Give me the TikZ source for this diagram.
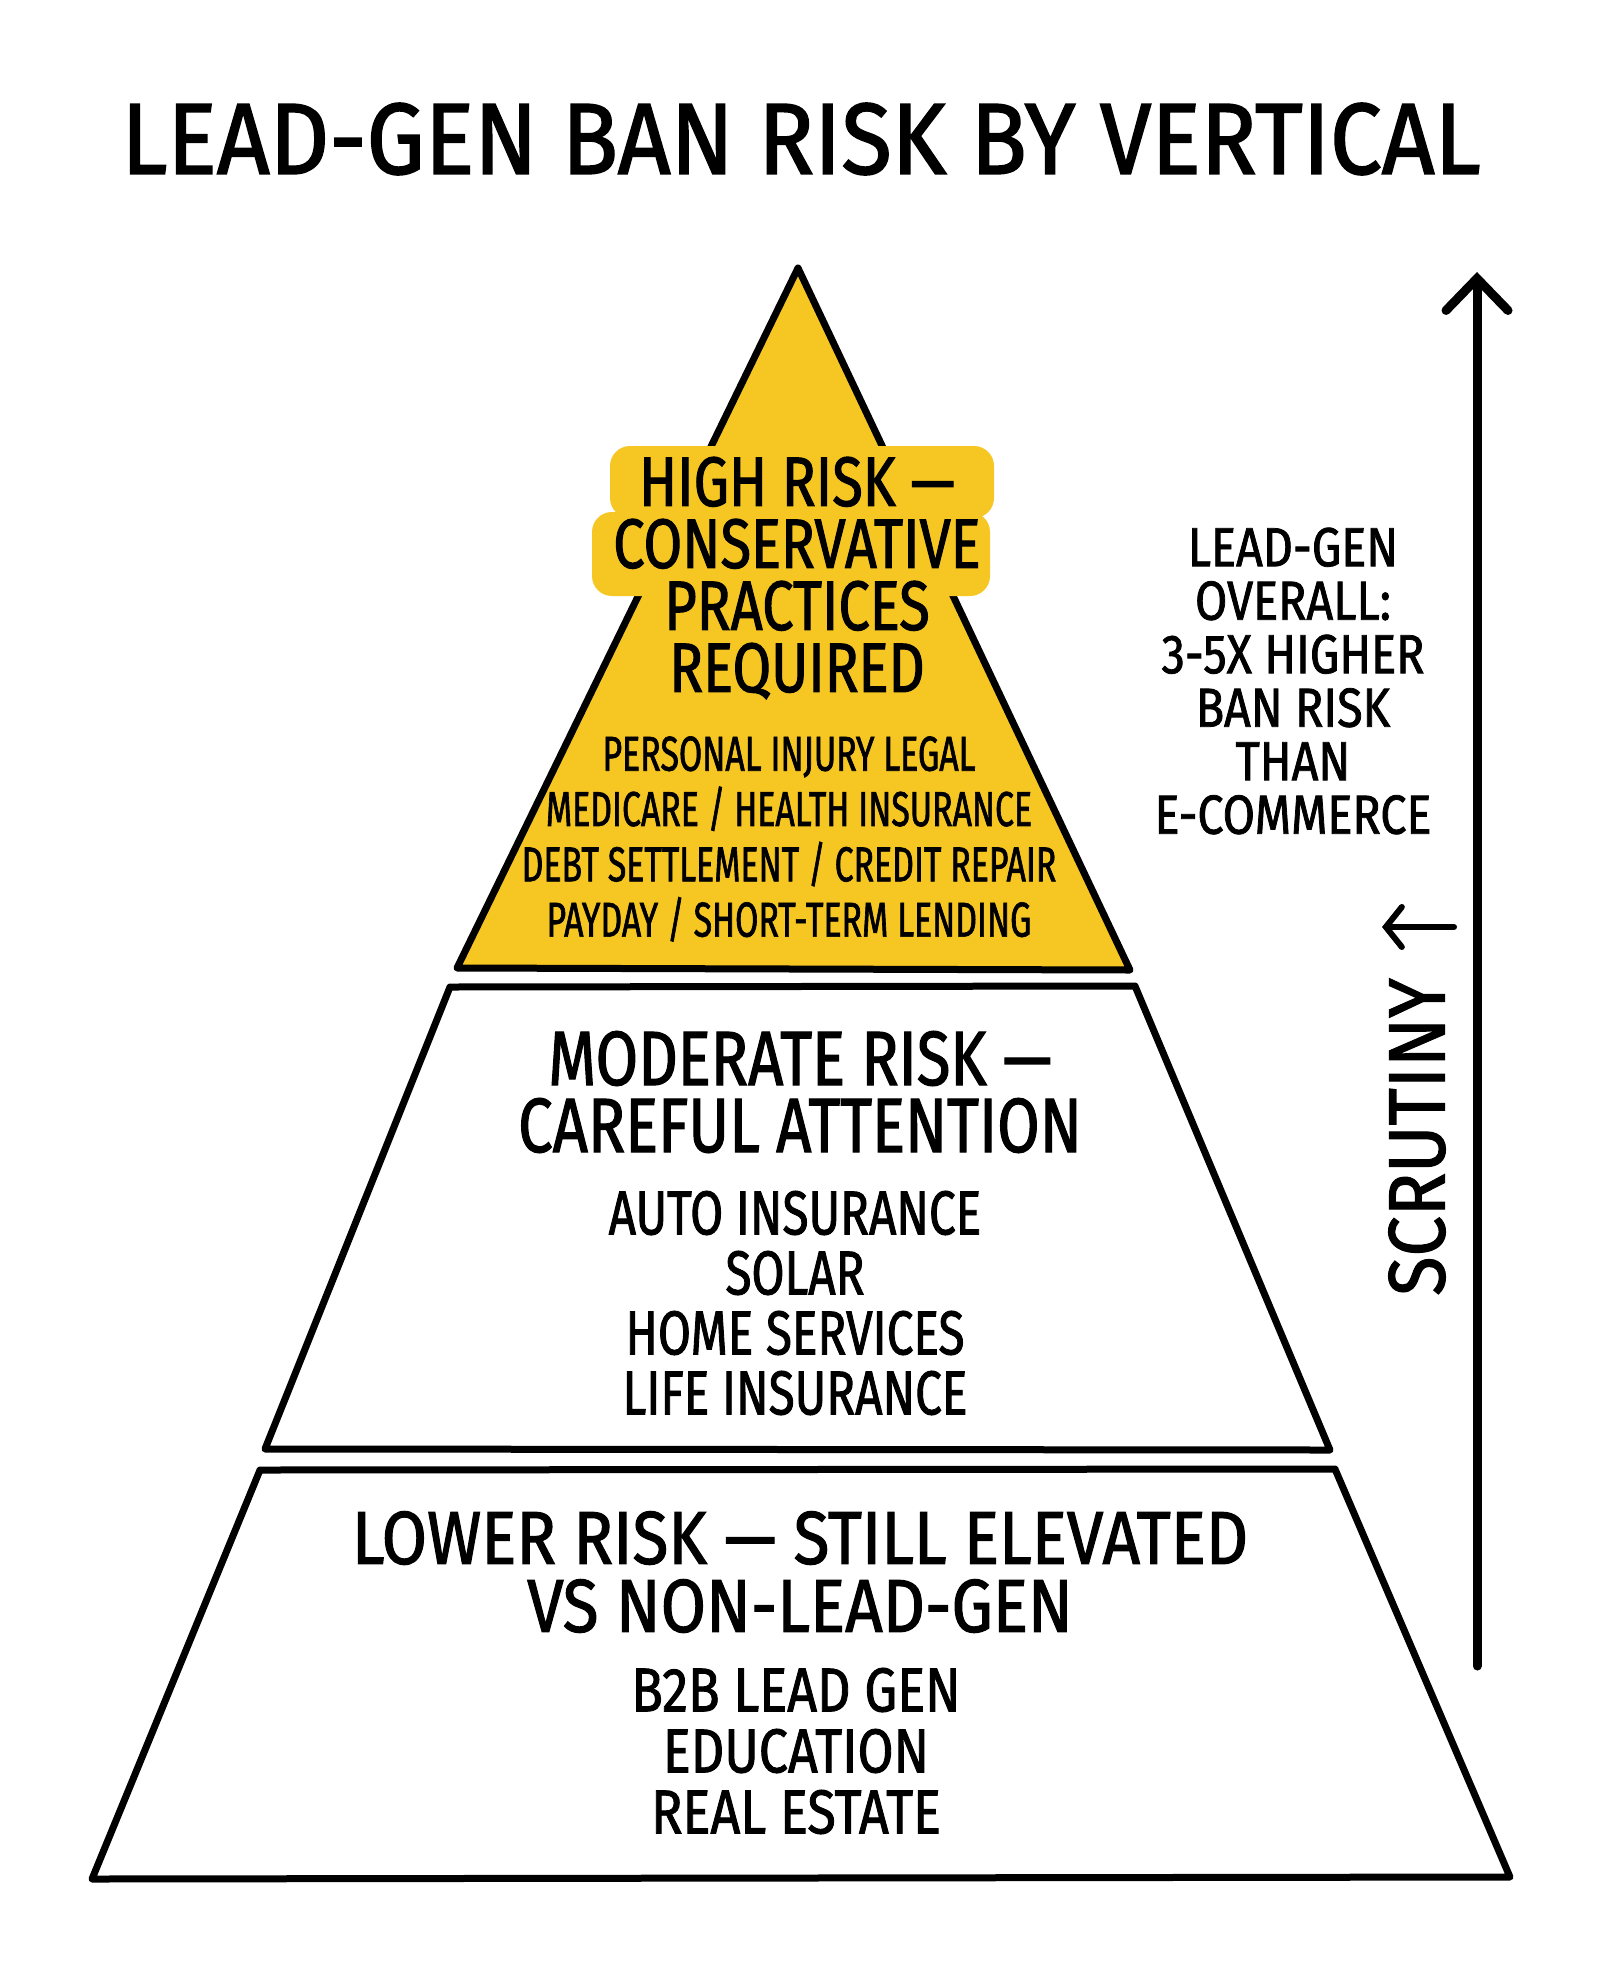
\documentclass[tikz,border=0pt]{standalone}
\usepackage{fontspec}
\setmainfont{Fira Sans}[FakeStretch=0.82, FakeBold=1.4]
\newfontfamily\fTitle{Fira Sans}[FakeStretch=0.915, FakeBold=1.6]
\newfontfamily\fHiHead{Fira Sans}[FakeStretch=0.80, FakeBold=1.5]
\newfontfamily\fHiItem{Fira Sans}[FakeStretch=0.69, FakeBold=1.3]
\newfontfamily\fMidHead{Fira Sans}[FakeStretch=0.80, FakeBold=1.5]
\newfontfamily\fMidItem{Fira Sans}[FakeStretch=0.77, FakeBold=1.4]
\newfontfamily\fLowHead{Fira Sans}[FakeStretch=0.875, FakeBold=1.5]
\newfontfamily\fLowItem{Fira Sans}[FakeStretch=0.84, FakeBold=1.4]
\newfontfamily\fSide{Fira Sans}[FakeStretch=0.85, FakeBold=1.4]
\newfontfamily\fScr{Fira Sans}[FakeStretch=0.90, FakeBold=1.4]
\usetikzlibrary{arrows.meta}
\definecolor{hiyel}{HTML}{F6C623}
\tikzset{
  edge/.style={line width=7pt, line cap=round, line join=round},
  txt/.style={align=center, inner sep=0pt, text=black},
  halo/.style={fill=hiyel, rounded corners=20pt, draw=none},
}
\begin{document}
\begin{tikzpicture}[x=1pt,y=-1pt]
\useasboundingbox[fill=white] (0,0) rectangle (1600,1986);

% title
\node[txt, font=\fTitle\fontsize{101}{110}\selectfont] (title) at (801,139) {LEAD-GEN BAN RISK BY VERTICAL};

% top tier
\coordinate (apex) at (798,268);
\coordinate (tl) at (457,968);
\coordinate (tr) at (1130,970);
\fill[hiyel] (apex) -- (tr) -- (tl) -- cycle;
\draw[edge] (apex) -- (tr) -- (tl) -- cycle;
\fill[halo] (610,446) rectangle (994,518);
\fill[halo] (592,512) rectangle (990,596);
\node[txt, font=\fHiHead\fontsize{70}{62}\selectfont] (hihead) at (797,578) {HIGH RISK —\\CONSERVATIVE\\PRACTICES\\REQUIRED};
\node[txt, font=\fHiItem\fontsize{49}{55.3}\selectfont] (hiitems) at (789,839) {PERSONAL INJURY LEGAL\\MEDICARE / HEALTH INSURANCE\\DEBT SETTLEMENT / CREDIT REPAIR\\PAYDAY / SHORT-TERM LENDING};

% middle tier
\coordinate (m1) at (450,987);
\coordinate (m2) at (1135,986);
\coordinate (m3) at (1330,1450);
\coordinate (m4) at (265,1449);
\draw[edge] (m1) -- (m2) -- (m3) -- (m4) -- cycle;
\node[txt, font=\fMidHead\fontsize{77}{67}\selectfont] (midhead) at (800,1092) {MODERATE RISK —\\CAREFUL ATTENTION};
\node[txt, font=\fMidItem\fontsize{62}{60}\selectfont] (miditems) at (795,1303) {AUTO INSURANCE\\SOLAR\\HOME SERVICES\\LIFE INSURANCE};

% lower tier
\coordinate (l1) at (260,1470);
\coordinate (l2) at (1335,1469);
\coordinate (l3) at (1510,1877);
\coordinate (l4) at (92,1879);
\draw[edge] (l1) -- (l2) -- (l3) -- (l4) -- cycle;
\node[txt, font=\fLowHead\fontsize{75}{68}\selectfont] (lowhead) at (800,1572) {LOWER RISK — STILL ELEVATED\\VS NON-LEAD-GEN};
\node[txt, font=\fLowItem\fontsize{62}{61}\selectfont] (lowitems) at (796,1751) {B2B LEAD GEN\\EDUCATION\\REAL ESTATE};

% side note
\node[txt, font=\fSide\fontsize{55}{53.5}\selectfont] (side) at (1293,681) {LEAD-GEN\\OVERALL:\\3-5X HIGHER\\BAN RISK\\THAN\\E-COMMERCE};

% scrutiny axis
\coordinate (axbot) at (1477,1666);
\coordinate (axtop) at (1477,272);
\draw[line width=9pt, line cap=round, -{Straight Barb[length=32pt, width=62pt, line cap=round]}] (axbot) -- (axtop);
\node[txt, rotate=90, font=\fScr\fontsize{80}{80}\selectfont] (scr) at (1417,1137) {SCRUTINY};
\coordinate (sa1) at (1454,927);
\coordinate (sa2) at (1382,927);
\draw[line width=6pt, line cap=round, -{Straight Barb[length=16pt, width=40pt, line cap=round]}] (sa1) -- (sa2);
\end{tikzpicture}
\end{document}
